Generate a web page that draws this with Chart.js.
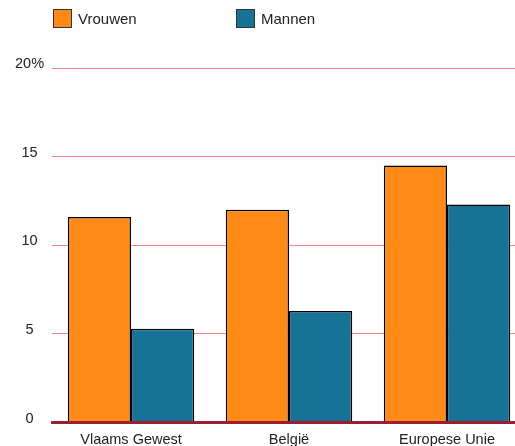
<!DOCTYPE html>
<html lang="nl">
  <head>
    <meta charset="UTF-8" />
    <title>Vrouwen en mannen</title>
    <script src="https://cdn.jsdelivr.net/npm/chart.js"></script>
    <style>
      body {
        margin: 0;
        overflow: hidden;
        background: #fff;
        font-family: "Liberation Sans", Arial, sans-serif;
      }
      .wrap {
        position: relative;
        width: 530px;
        height: 450px;
      }
      .legend {
        position: absolute;
        top: 9px;
        left: 0;
        font-size: 15px;
        color: #222;
      }
      .legend .item {
        position: absolute;
        white-space: nowrap;
        display: flex;
        align-items: center;
      }
      .legend .box {
        width: 17px;
        height: 17px;
        border: 1px solid #333;
        margin-right: 6px;
      }
    </style>
  </head>
  <body>
    <div class="wrap">
      <div class="legend" id="legend"></div>
      <canvas id="myChart" width="530" height="450"></canvas>
    </div>
    <script>
      let categories = ["Vlaams Gewest", "België", "Europese Unie"];
      let vrouwen = [11.6, 12.0, 14.5];
      let mannen = [5.3, 6.3, 12.3];
      let yTicks = [0, 5, 10, 15, 20];

      let seriesNames = ["Vrouwen", "Mannen"];
      let seriesColors = ["#ff8a17", "#167396"];
      let legendLeft = [53, 236];

      // html legend
      let legend = document.getElementById("legend");
      seriesNames.forEach((name, i) => {
        let item = document.createElement("div");
        item.className = "item";
        item.style.left = legendLeft[i] + "px";
        item.innerHTML =
          '<span class="box" style="background:' + seriesColors[i] + '"></span>' + name;
        legend.appendChild(item);
      });

      const ctx = document.getElementById("myChart");

      new Chart(ctx, {
        type: "bar",
        data: {
          labels: categories,
          datasets: [
            {
              label: seriesNames[0],
              data: vrouwen,
              backgroundColor: seriesColors[0],
              borderColor: "#000",
              borderWidth: 1.5,
            },
            {
              label: seriesNames[1],
              data: mannen,
              backgroundColor: seriesColors[1],
              borderColor: "#000",
              borderWidth: 1.5,
            },
          ],
        },
        options: {
          responsive: false,
          animation: false,
          devicePixelRatio: 1,
          layout: {
            padding: { top: 68, left: 7, right: 4, bottom: 0 },
          },
          plugins: {
            legend: { display: false },
            tooltip: { enabled: false },
          },
          datasets: {
            bar: { categoryPercentage: 0.8, barPercentage: 1.0 },
          },
          scales: {
            x: {
              grid: { display: false },
              border: { display: true, color: "#9b1f33", width: 3, z: 1 },
              ticks: {
                color: "#222",
                padding: 1,
                maxRotation: 0,
                autoSkip: false,
                font: { family: "Liberation Sans", size: 14.5 },
              },
            },
            y: {
              min: yTicks[0],
              max: yTicks[yTicks.length - 1],
              afterBuildTicks: (axis) => {
                axis.ticks = yTicks.map((v) => ({ value: v }));
              },
              grid: { color: "#e58a8a", lineWidth: 1, drawTicks: false },
              border: { display: false },
              ticks: {
                color: "#222",
                crossAlign: "center",
                padding: 8,
                labelOffset: -4,
                autoSkip: false,
                font: { family: "Liberation Sans", size: 14.5 },
                callback: (v) => (v === 20 ? v + "%" : v),
              },
            },
          },
        },
      });
    </script>
  </body>
</html>
